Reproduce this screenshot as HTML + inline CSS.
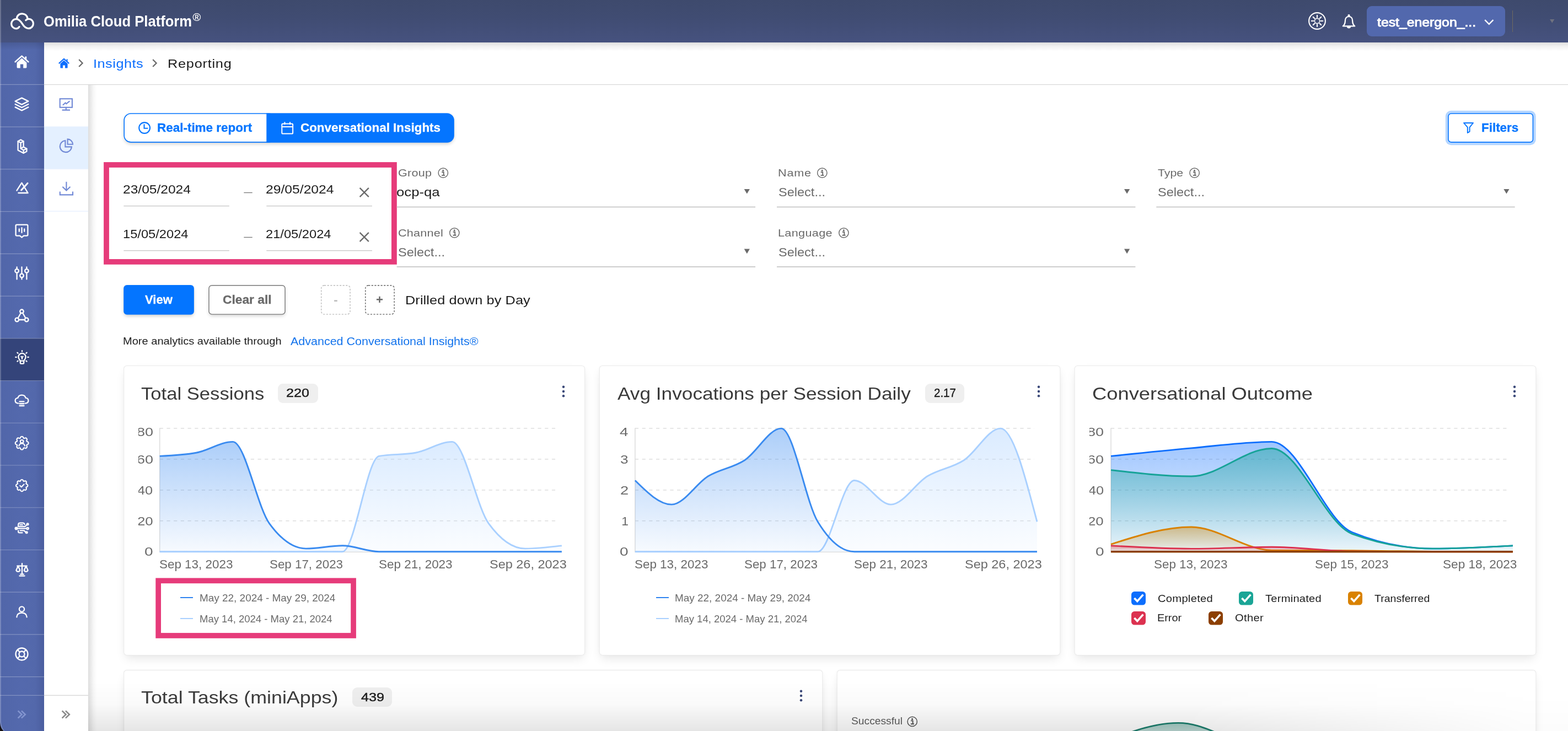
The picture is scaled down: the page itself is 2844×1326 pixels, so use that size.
<!DOCTYPE html>
<html lang="en"><head><meta charset="utf-8"><title>Omilia Cloud Platform - Reporting</title><style>
*{box-sizing:border-box;margin:0;padding:0}
html,body{width:2844px;height:1326px;overflow:hidden;background:#fff}
body{position:relative;font-family:"Liberation Sans",sans-serif;}
.t{position:absolute;white-space:nowrap;display:block;z-index:2}
svg{display:block;overflow:visible}
</style></head><body>
<div style="position:absolute;left:160.00px;top:154.00px;width:16.00px;height:1172.00px;background:linear-gradient(to right,rgba(0,0,0,0.13),rgba(0,0,0,0.03) 60%,rgba(0,0,0,0));"></div>
<div style="position:absolute;left:225.00px;top:206.00px;width:598.40px;height:52.40px;border-radius:13px;box-shadow:0 3px 6px rgba(0,0,0,0.2);background:#fff;"></div>
<span class="t" style="left:285.10px;top:221.30px;font-size:22.20px;line-height:22.20px;color:#0475ff;font-weight:bold;transform:scaleX(1.0119);transform-origin:0 0;-webkit-text-stroke:0.3px #0475ff;">Real-time report</span>
<span class="t" style="left:544.88px;top:221.30px;font-size:22.20px;line-height:22.20px;color:#fff;font-weight:bold;transform:scaleX(1.0100);transform-origin:0 0;-webkit-text-stroke:0.3px #fff;">Conversational Insights</span>
<span class="t" style="left:2687.10px;top:221.30px;font-size:22.20px;line-height:22.20px;color:#0475ff;font-weight:bold;transform:scaleX(1.0094);transform-origin:0 0;-webkit-text-stroke:0.3px #0475ff;">Filters</span>
<span class="t" style="left:223.36px;top:332.40px;font-size:22.80px;line-height:22.80px;color:#1c1c1c;font-weight:normal;transform:scaleX(1.0775);transform-origin:0 0;">23/05/2024</span>
<span class="t" style="left:482.26px;top:332.40px;font-size:22.80px;line-height:22.80px;color:#1c1c1c;font-weight:normal;transform:scaleX(1.0829);transform-origin:0 0;">29/05/2024</span>
<span class="t" style="left:222.80px;top:413.40px;font-size:22.80px;line-height:22.80px;color:#1c1c1c;font-weight:normal;transform:scaleX(1.0385);transform-origin:0 0;">15/05/2024</span>
<span class="t" style="left:482.31px;top:413.40px;font-size:22.80px;line-height:22.80px;color:#1c1c1c;font-weight:normal;transform:scaleX(1.0383);transform-origin:0 0;">21/05/2024</span>
<span class="t" style="left:722.21px;top:305.18px;font-size:18.80px;line-height:18.80px;color:#6a6a6a;font-weight:normal;letter-spacing:0.209px;transform:scaleX(1.1500);transform-origin:0 0;">Group</span>
<span class="t" style="left:719.22px;top:337.57px;font-size:22.60px;line-height:22.60px;color:#1c1c1c;font-weight:normal;transform:scaleX(1.1388);transform-origin:0 0;">ocp-qa</span>
<span class="t" style="left:1410.83px;top:305.18px;font-size:18.80px;line-height:18.80px;color:#6a6a6a;font-weight:normal;letter-spacing:0.726px;transform:scaleX(1.1500);transform-origin:0 0;">Name</span>
<span class="t" style="left:1411.53px;top:338.07px;font-size:22.00px;line-height:22.00px;color:#6a6a6a;font-weight:normal;transform:scaleX(1.0696);transform-origin:0 0;">Select...</span>
<span class="t" style="left:2100.43px;top:305.18px;font-size:18.80px;line-height:18.80px;color:#6a6a6a;font-weight:normal;transform:scaleX(1.1344);transform-origin:0 0;">Type</span>
<span class="t" style="left:2099.83px;top:338.07px;font-size:22.00px;line-height:22.00px;color:#6a6a6a;font-weight:normal;transform:scaleX(1.0696);transform-origin:0 0;">Select...</span>
<span class="t" style="left:722.20px;top:413.78px;font-size:18.80px;line-height:18.80px;color:#6a6a6a;font-weight:normal;letter-spacing:0.185px;transform:scaleX(1.1500);transform-origin:0 0;">Channel</span>
<span class="t" style="left:722.23px;top:446.67px;font-size:22.00px;line-height:22.00px;color:#6a6a6a;font-weight:normal;transform:scaleX(1.0696);transform-origin:0 0;">Select...</span>
<span class="t" style="left:1410.83px;top:413.78px;font-size:18.80px;line-height:18.80px;color:#6a6a6a;font-weight:normal;letter-spacing:0.302px;transform:scaleX(1.1500);transform-origin:0 0;">Language</span>
<span class="t" style="left:1411.53px;top:446.67px;font-size:22.00px;line-height:22.00px;color:#6a6a6a;font-weight:normal;transform:scaleX(1.0696);transform-origin:0 0;">Select...</span>
<div style="position:absolute;left:225.00px;top:518.00px;width:126.00px;height:52.00px;border-radius:6px;background:#fff;box-shadow:0 3px 6px rgba(0,0,0,0.22);"></div>
<span class="t" style="left:262.85px;top:533.10px;font-size:22.20px;line-height:22.20px;color:#fff;font-weight:bold;transform:scaleX(0.9947);transform-origin:0 0;-webkit-text-stroke:0.3px #fff;">View</span>
<div style="position:absolute;left:379.00px;top:518.00px;width:138.00px;height:52.00px;border-radius:6px;background:#fff;box-shadow:0 3px 6px rgba(0,0,0,0.18);"></div>
<span class="t" style="left:404.07px;top:533.10px;font-size:22.20px;line-height:22.20px;color:#6a6a6a;font-weight:bold;transform:scaleX(1.0255);transform-origin:0 0;-webkit-text-stroke:0.3px #6a6a6a;">Clear all</span>
<span class="t" style="left:605.33px;top:533.10px;font-size:22.20px;line-height:22.20px;color:#bdbdbd;font-weight:bold;">-</span>
<span class="t" style="left:682.07px;top:533.10px;font-size:22.20px;line-height:22.20px;color:#6a6a6a;font-weight:bold;">+</span>
<span class="t" style="left:734.72px;top:534.27px;font-size:22.00px;line-height:22.00px;color:#1c1c1c;font-weight:normal;letter-spacing:0.084px;transform:scaleX(1.1500);transform-origin:0 0;">Drilled down by Day</span>
<span class="t" style="left:223.26px;top:611.28px;font-size:17.50px;line-height:17.50px;color:#1c1c1c;font-weight:normal;transform:scaleX(1.1457);transform-origin:0 0;">More analytics available through</span>
<span class="t" style="left:526.76px;top:608.77px;font-size:20.00px;line-height:20.00px;color:#1373ec;font-weight:normal;transform:scaleX(1.0739);transform-origin:0 0;">Advanced Conversational Insights®</span>
<svg style="position:absolute;left:0;top:0" width="2844" height="1326" viewBox="0 0 2844 1326"><rect x="225.20" y="206.00" width="274.00" height="51.90" rx="12.20" fill="#fff" stroke="#0475ff" stroke-width="1.6"/><path d="M483.3 205.2 H810.8 A13 13 0 0 1 823.8 218.2 V245.7 A13 13 0 0 1 810.8 258.7 H483.3 Z" fill="#0475ff"/><g fill="none" stroke="#0475ff" stroke-width="2.1"><circle cx="262.1" cy="232" r="9.9"/><path d="M261.5 225.2 V232.8 H268.3"/></g><g fill="none" stroke="#fff" stroke-width="2"><rect x="511.3" y="224.4" width="19.8" height="18.2" rx="1.6"/><path d="M511.3 230 H531.1 M516.4 221.2 V226 M526 221.2 V226"/></g><rect x="2621.80" y="200.70" width="163.80" height="62.50" rx="10.00" fill="#b5d6ff" stroke="none" stroke-width="0"/><rect x="2627.00" y="206.00" width="153.40" height="51.90" rx="5.20" fill="#fff" stroke="#0475ff" stroke-width="1.6"/><path d="M2655 223 H2672 L2665.6 230.8 V238.6 L2661.8 241 V230.8 Z" fill="none" stroke="#0475ff" stroke-width="1.9" stroke-linejoin="round"/><rect x="193.00" y="299.00" width="521.90" height="175.90" rx="0.00" fill="none" stroke="#e63b7a" stroke-width="9.8"/><path d="M224.40 373.60 L415.90 373.60" stroke="#c4c4c4" stroke-width="1.4" fill="none"/><path d="M442.30 349.50 L457.70 349.50" stroke="#777" stroke-width="1.3" fill="none"/><path d="M483.30 373.60 L674.90 373.60" stroke="#c4c4c4" stroke-width="1.4" fill="none"/><path d="M652.6 340.90 L668.8 357.10 M668.8 340.90 L652.6 357.10" fill="none" stroke="#6a6a6a" stroke-width="2.3"/><path d="M224.40 454.60 L415.90 454.60" stroke="#c4c4c4" stroke-width="1.4" fill="none"/><path d="M442.30 430.50 L457.70 430.50" stroke="#777" stroke-width="1.3" fill="none"/><path d="M483.30 454.60 L674.90 454.60" stroke="#c4c4c4" stroke-width="1.4" fill="none"/><path d="M652.6 421.90 L668.8 438.10 M668.8 421.90 L652.6 438.10" fill="none" stroke="#6a6a6a" stroke-width="2.3"/><g transform="translate(803.80 313.70)" fill="none" stroke="#6a6a6a"><circle cx="0" cy="0" r="8.65" stroke-width="1.5"/><circle cx="-0.1" cy="-4.5" r="1.55" fill="#6a6a6a" stroke="none"/><path d="M-2.6 -1.5 H0.9 V4.4 M-2.8 4.4 H3.2" stroke-width="1.9"/></g><path d="M719.70 375.40 L1370.10 375.40" stroke="#cdcdcd" stroke-width="2.0" fill="none"/><path d="M1349.70 343.00 h10.2 l-5.1 8.6 Z" fill="#6a6a6a"/><g transform="translate(1491.30 313.70)" fill="none" stroke="#6a6a6a"><circle cx="0" cy="0" r="8.65" stroke-width="1.5"/><circle cx="-0.1" cy="-4.5" r="1.55" fill="#6a6a6a" stroke="none"/><path d="M-2.6 -1.5 H0.9 V4.4 M-2.8 4.4 H3.2" stroke-width="1.9"/></g><path d="M1409.00 375.40 L2059.40 375.40" stroke="#cdcdcd" stroke-width="2.0" fill="none"/><path d="M2039.00 343.00 h10.2 l-5.1 8.6 Z" fill="#6a6a6a"/><g transform="translate(2166.60 313.70)" fill="none" stroke="#6a6a6a"><circle cx="0" cy="0" r="8.65" stroke-width="1.5"/><circle cx="-0.1" cy="-4.5" r="1.55" fill="#6a6a6a" stroke="none"/><path d="M-2.6 -1.5 H0.9 V4.4 M-2.8 4.4 H3.2" stroke-width="1.9"/></g><path d="M2097.30 375.40 L2747.70 375.40" stroke="#cdcdcd" stroke-width="2.0" fill="none"/><path d="M2727.30 343.00 h10.2 l-5.1 8.6 Z" fill="#6a6a6a"/><g transform="translate(824.30 422.30)" fill="none" stroke="#6a6a6a"><circle cx="0" cy="0" r="8.65" stroke-width="1.5"/><circle cx="-0.1" cy="-4.5" r="1.55" fill="#6a6a6a" stroke="none"/><path d="M-2.6 -1.5 H0.9 V4.4 M-2.8 4.4 H3.2" stroke-width="1.9"/></g><path d="M719.70 484.00 L1370.10 484.00" stroke="#cdcdcd" stroke-width="2.0" fill="none"/><path d="M1349.70 451.60 h10.2 l-5.1 8.6 Z" fill="#6a6a6a"/><g transform="translate(1530.40 422.30)" fill="none" stroke="#6a6a6a"><circle cx="0" cy="0" r="8.65" stroke-width="1.5"/><circle cx="-0.1" cy="-4.5" r="1.55" fill="#6a6a6a" stroke="none"/><path d="M-2.6 -1.5 H0.9 V4.4 M-2.8 4.4 H3.2" stroke-width="1.9"/></g><path d="M1409.00 484.00 L2059.40 484.00" stroke="#cdcdcd" stroke-width="2.0" fill="none"/><path d="M2039.00 451.60 h10.2 l-5.1 8.6 Z" fill="#6a6a6a"/><rect x="224.20" y="517.10" width="127.70" height="53.70" rx="6.00" fill="#0475ff" stroke="none" stroke-width="0"/><rect x="379.00" y="517.80" width="138.00" height="52.30" rx="5.30" fill="#fff" stroke="#787878" stroke-width="1.4"/><rect x="582.70" y="517.80" width="52.30" height="52.30" rx="5.30" fill="#fff" stroke="#bdbdbd" stroke-width="1.4" stroke-dasharray="3.2 2.4"/><rect x="662.80" y="517.80" width="52.30" height="52.30" rx="5.30" fill="#fff" stroke="#666" stroke-width="1.4" stroke-dasharray="3.2 2.4"/></svg>
<div style="position:absolute;left:225.00px;top:664.00px;width:836.00px;height:524.00px;background:#fff;border-radius:5px;box-shadow:0 9px 18px -3px rgba(0,0,0,0.10),0 0 10px rgba(0,0,0,0.02);"></div>
<div style="position:absolute;left:1087.00px;top:664.00px;width:836.00px;height:524.00px;background:#fff;border-radius:5px;box-shadow:0 9px 18px -3px rgba(0,0,0,0.10),0 0 10px rgba(0,0,0,0.02);"></div>
<div style="position:absolute;left:1949.00px;top:664.00px;width:837.00px;height:524.00px;background:#fff;border-radius:5px;box-shadow:0 9px 18px -3px rgba(0,0,0,0.10),0 0 10px rgba(0,0,0,0.02);"></div>
<div style="position:absolute;left:225.00px;top:1216.00px;width:1267.00px;height:283.00px;background:#fff;border-radius:5px;box-shadow:0 9px 18px -3px rgba(0,0,0,0.10),0 0 10px rgba(0,0,0,0.02);"></div>
<div style="position:absolute;left:1518.00px;top:1216.00px;width:1268.00px;height:283.00px;background:#fff;border-radius:5px;box-shadow:0 9px 18px -3px rgba(0,0,0,0.10),0 0 10px rgba(0,0,0,0.02);"></div>
<svg style="position:absolute;left:0;top:0" width="2844" height="1326" viewBox="0 0 2844 1326"><rect x="224.65" y="663.45" width="836.00" height="525.00" rx="5.45" fill="#fff" stroke="#eaeaea" stroke-width="1.1"/><rect x="1087.25" y="663.45" width="835.60" height="525.00" rx="5.45" fill="#fff" stroke="#eaeaea" stroke-width="1.1"/><rect x="1949.15" y="663.45" width="836.70" height="525.00" rx="5.45" fill="#fff" stroke="#eaeaea" stroke-width="1.1"/><rect x="224.65" y="1215.65" width="1267.20" height="283.80" rx="5.45" fill="#fff" stroke="#eaeaea" stroke-width="1.1"/><rect x="1518.25" y="1215.65" width="1267.60" height="283.80" rx="5.45" fill="#fff" stroke="#eaeaea" stroke-width="1.1"/></svg>
<span class="t" style="left:256.04px;top:697.91px;font-size:32.00px;line-height:32.00px;color:#3a3a3a;font-weight:normal;transform:scaleX(1.0817);transform-origin:0 0;">Total Sessions</span>
<div style="position:absolute;left:504.30px;top:696.30px;width:72.40px;height:34.40px;background:#efefef;border-radius:9px;"></div>
<span class="t" style="left:519.44px;top:701.40px;font-size:22.80px;line-height:22.80px;color:#1c1c1c;font-weight:normal;transform:scaleX(1.0997);transform-origin:0 0;-webkit-text-stroke:0.45px #1c1c1c;">220</span>
<svg style="position:absolute;left:1018.90px;top:698.30px;" width="6.00" height="24.00" viewBox="0 0 6 24"><circle cx="3" cy="3.7" r="2.25" fill="#3a4878"/><circle cx="3" cy="12" r="2.25" fill="#3a4878"/><circle cx="3" cy="20.3" r="2.25" fill="#3a4878"/></svg>
<span class="t" style="left:1119.83px;top:697.91px;font-size:32.00px;line-height:32.00px;color:#3a3a3a;font-weight:normal;transform:scaleX(1.1004);transform-origin:0 0;">Avg Invocations per Session Daily</span>
<div style="position:absolute;left:1678.20px;top:696.30px;width:70.70px;height:34.40px;background:#efefef;border-radius:9px;"></div>
<span class="t" style="left:1693.62px;top:701.40px;font-size:22.80px;line-height:22.80px;color:#1c1c1c;font-weight:normal;transform:scaleX(0.8983);transform-origin:0 0;-webkit-text-stroke:0.45px #1c1c1c;">2.17</span>
<svg style="position:absolute;left:1881.10px;top:698.30px;" width="6.00" height="24.00" viewBox="0 0 6 24"><circle cx="3" cy="3.7" r="2.25" fill="#3a4878"/><circle cx="3" cy="12" r="2.25" fill="#3a4878"/><circle cx="3" cy="20.3" r="2.25" fill="#3a4878"/></svg>
<span class="t" style="left:1980.75px;top:697.91px;font-size:32.00px;line-height:32.00px;color:#3a3a3a;font-weight:normal;transform:scaleX(1.1360);transform-origin:0 0;">Conversational Outcome</span>
<svg style="position:absolute;left:2743.70px;top:698.30px;" width="6.00" height="24.00" viewBox="0 0 6 24"><circle cx="3" cy="3.7" r="2.25" fill="#3a4878"/><circle cx="3" cy="12" r="2.25" fill="#3a4878"/><circle cx="3" cy="20.3" r="2.25" fill="#3a4878"/></svg>
<span class="t" style="left:256.01px;top:1248.61px;font-size:32.00px;line-height:32.00px;color:#3a3a3a;font-weight:normal;transform:scaleX(1.1184);transform-origin:0 0;">Total Tasks (miniApps)</span>
<div style="position:absolute;left:639.30px;top:1247.40px;width:72.20px;height:34.40px;background:#efefef;border-radius:9px;"></div>
<span class="t" style="left:654.72px;top:1252.50px;font-size:22.80px;line-height:22.80px;color:#1c1c1c;font-weight:normal;transform:scaleX(1.1031);transform-origin:0 0;-webkit-text-stroke:0.45px #1c1c1c;">439</span>
<svg style="position:absolute;left:1450.00px;top:1249.60px;" width="6.00" height="24.00" viewBox="0 0 6 24"><circle cx="3" cy="3.7" r="2.25" fill="#3a4878"/><circle cx="3" cy="12" r="2.25" fill="#3a4878"/><circle cx="3" cy="20.3" r="2.25" fill="#3a4878"/></svg>
<span class="t" style="left:1544.13px;top:1300.28px;font-size:17.50px;line-height:17.50px;color:#555;font-weight:normal;transform:scaleX(1.0985);transform-origin:0 0;">Successful</span>
<div style="position:absolute;left:251.00px;top:760.70px;width:27.60px;height:40.00px;overflow:hidden;"><span class="t" style="left:-3.37px;top:11.40px;font-size:22.80px;line-height:22.80px;color:#6a6a6a;font-weight:normal;transform:scaleX(1.1841);transform-origin:0 0;">80</span></div>
<div style="position:absolute;left:251.00px;top:810.60px;width:27.60px;height:40.00px;overflow:hidden;"><span class="t" style="left:-3.37px;top:11.40px;font-size:22.80px;line-height:22.80px;color:#6a6a6a;font-weight:normal;transform:scaleX(1.1840);transform-origin:0 0;">60</span></div>
<div style="position:absolute;left:251.00px;top:866.50px;width:27.60px;height:40.00px;overflow:hidden;"><span class="t" style="left:-1.58px;top:11.40px;font-size:22.80px;line-height:22.80px;color:#6a6a6a;font-weight:normal;transform:scaleX(1.1109);transform-origin:0 0;">40</span></div>
<div style="position:absolute;left:251.00px;top:922.40px;width:27.60px;height:40.00px;overflow:hidden;"><span class="t" style="left:-2.10px;top:11.40px;font-size:22.80px;line-height:22.80px;color:#6a6a6a;font-weight:normal;transform:scaleX(1.1320);transform-origin:0 0;">20</span></div>
<div style="position:absolute;left:251.00px;top:977.60px;width:27.60px;height:40.00px;overflow:hidden;"><span class="t" style="left:11.11px;top:11.40px;font-size:22.80px;line-height:22.80px;color:#6a6a6a;font-weight:normal;transform:scaleX(1.2288);transform-origin:0 0;">0</span></div>
<span class="t" style="left:289.28px;top:1011.60px;font-size:22.80px;line-height:22.80px;color:#6a6a6a;font-weight:normal;transform:scaleX(0.9835);transform-origin:0 0;">Sep 13, 2023</span>
<span class="t" style="left:488.58px;top:1011.60px;font-size:22.80px;line-height:22.80px;color:#6a6a6a;font-weight:normal;transform:scaleX(0.9805);transform-origin:0 0;">Sep 17, 2023</span>
<span class="t" style="left:686.98px;top:1011.60px;font-size:22.80px;line-height:22.80px;color:#6a6a6a;font-weight:normal;transform:scaleX(0.9850);transform-origin:0 0;">Sep 21, 2023</span>
<span class="t" style="left:887.93px;top:1011.60px;font-size:22.80px;line-height:22.80px;color:#6a6a6a;font-weight:normal;transform:scaleX(1.0299);transform-origin:0 0;">Sep 26, 2023</span>
<div style="position:absolute;left:1110.00px;top:760.70px;width:30.80px;height:40.00px;overflow:hidden;"><span class="t" style="left:14.16px;top:11.40px;font-size:22.80px;line-height:22.80px;color:#6a6a6a;font-weight:normal;transform:scaleX(1.2179);transform-origin:0 0;">4</span></div>
<div style="position:absolute;left:1110.00px;top:810.60px;width:30.80px;height:40.00px;overflow:hidden;"><span class="t" style="left:15.40px;top:11.40px;font-size:22.80px;line-height:22.80px;color:#6a6a6a;font-weight:normal;transform:scaleX(1.1464);transform-origin:0 0;">3</span></div>
<div style="position:absolute;left:1110.00px;top:866.50px;width:30.80px;height:40.00px;overflow:hidden;"><span class="t" style="left:15.03px;top:11.40px;font-size:22.80px;line-height:22.80px;color:#6a6a6a;font-weight:normal;transform:scaleX(1.1931);transform-origin:0 0;">2</span></div>
<div style="position:absolute;left:1110.00px;top:922.40px;width:30.80px;height:40.00px;overflow:hidden;"><span class="t" style="left:17.23px;top:11.40px;font-size:22.80px;line-height:22.80px;color:#6a6a6a;font-weight:normal;">1</span></div>
<div style="position:absolute;left:1110.00px;top:977.60px;width:30.80px;height:40.00px;overflow:hidden;"><span class="t" style="left:14.31px;top:11.40px;font-size:22.80px;line-height:22.80px;color:#6a6a6a;font-weight:normal;transform:scaleX(1.2288);transform-origin:0 0;">0</span></div>
<span class="t" style="left:1151.38px;top:1011.60px;font-size:22.80px;line-height:22.80px;color:#6a6a6a;font-weight:normal;transform:scaleX(0.9835);transform-origin:0 0;">Sep 13, 2023</span>
<span class="t" style="left:1350.38px;top:1011.60px;font-size:22.80px;line-height:22.80px;color:#6a6a6a;font-weight:normal;transform:scaleX(0.9805);transform-origin:0 0;">Sep 17, 2023</span>
<span class="t" style="left:1549.18px;top:1011.60px;font-size:22.80px;line-height:22.80px;color:#6a6a6a;font-weight:normal;transform:scaleX(0.9850);transform-origin:0 0;">Sep 21, 2023</span>
<span class="t" style="left:1749.93px;top:1011.60px;font-size:22.80px;line-height:22.80px;color:#6a6a6a;font-weight:normal;transform:scaleX(1.0299);transform-origin:0 0;">Sep 26, 2023</span>
<div style="position:absolute;left:1975.60px;top:760.70px;width:27.40px;height:40.00px;overflow:hidden;"><span class="t" style="left:-3.57px;top:11.40px;font-size:22.80px;line-height:22.80px;color:#6a6a6a;font-weight:normal;transform:scaleX(1.1841);transform-origin:0 0;">80</span></div>
<div style="position:absolute;left:1975.60px;top:810.60px;width:27.40px;height:40.00px;overflow:hidden;"><span class="t" style="left:-3.57px;top:11.40px;font-size:22.80px;line-height:22.80px;color:#6a6a6a;font-weight:normal;transform:scaleX(1.1840);transform-origin:0 0;">60</span></div>
<div style="position:absolute;left:1975.60px;top:866.50px;width:27.40px;height:40.00px;overflow:hidden;"><span class="t" style="left:-1.78px;top:11.40px;font-size:22.80px;line-height:22.80px;color:#6a6a6a;font-weight:normal;transform:scaleX(1.1109);transform-origin:0 0;">40</span></div>
<div style="position:absolute;left:1975.60px;top:922.40px;width:27.40px;height:40.00px;overflow:hidden;"><span class="t" style="left:-2.30px;top:11.40px;font-size:22.80px;line-height:22.80px;color:#6a6a6a;font-weight:normal;transform:scaleX(1.1320);transform-origin:0 0;">20</span></div>
<div style="position:absolute;left:1975.60px;top:977.60px;width:27.40px;height:40.00px;overflow:hidden;"><span class="t" style="left:10.91px;top:11.40px;font-size:22.80px;line-height:22.80px;color:#6a6a6a;font-weight:normal;transform:scaleX(1.2288);transform-origin:0 0;">0</span></div>
<span class="t" style="left:2093.38px;top:1011.60px;font-size:22.80px;line-height:22.80px;color:#6a6a6a;font-weight:normal;transform:scaleX(0.9835);transform-origin:0 0;">Sep 13, 2023</span>
<span class="t" style="left:2385.48px;top:1011.60px;font-size:22.80px;line-height:22.80px;color:#6a6a6a;font-weight:normal;transform:scaleX(0.9835);transform-origin:0 0;">Sep 15, 2023</span>
<span class="t" style="left:2616.97px;top:1011.60px;font-size:22.80px;line-height:22.80px;color:#6a6a6a;font-weight:normal;transform:scaleX(0.9910);transform-origin:0 0;">Sep 18, 2023</span>
<svg style="position:absolute;left:0;top:0" width="2844" height="1326" viewBox="0 0 2844 1326"><defs><linearGradient id="ga" x1="0" y1="0" x2="0" y2="1"><stop offset="0" stop-color="#2f84f0" stop-opacity="0.40"/><stop offset="1" stop-color="#2f84f0" stop-opacity="0.04"/></linearGradient><linearGradient id="gb" x1="0" y1="0" x2="0" y2="1"><stop offset="0" stop-color="#a9d0ff" stop-opacity="0.42"/><stop offset="1" stop-color="#a9d0ff" stop-opacity="0.05"/></linearGradient><linearGradient id="gc1" x1="0" y1="0" x2="0" y2="1"><stop offset="0" stop-color="#0d6efd" stop-opacity="0.40"/><stop offset="1" stop-color="#0d6efd" stop-opacity="0.04"/></linearGradient><linearGradient id="gc2" x1="0" y1="0" x2="0" y2="1"><stop offset="0" stop-color="#17a398" stop-opacity="0.46"/><stop offset="1" stop-color="#17a398" stop-opacity="0.04"/></linearGradient><linearGradient id="gc3" x1="0" y1="0" x2="0" y2="1"><stop offset="0" stop-color="#d98200" stop-opacity="0.42"/><stop offset="1" stop-color="#d98200" stop-opacity="0.04"/></linearGradient><linearGradient id="gc4" x1="0" y1="0" x2="0" y2="1"><stop offset="0" stop-color="#dc3250" stop-opacity="0.40"/><stop offset="1" stop-color="#dc3250" stop-opacity="0.04"/></linearGradient><linearGradient id="gs" x1="0" y1="0" x2="0" y2="1"><stop offset="0" stop-color="#1d7f6e" stop-opacity="0.42"/><stop offset="1" stop-color="#1d7f6e" stop-opacity="0.2"/></linearGradient></defs><path d="M289.7 777.1 H1013.5" stroke="#dedede" stroke-width="1.5" stroke-dasharray="6.2 6.5" fill="none"/><path d="M289.7 833.0 H1013.5" stroke="#dedede" stroke-width="1.5" stroke-dasharray="6.2 6.5" fill="none"/><path d="M289.7 888.9 H1013.5" stroke="#dedede" stroke-width="1.5" stroke-dasharray="6.2 6.5" fill="none"/><path d="M289.7 944.8 H1013.5" stroke="#dedede" stroke-width="1.5" stroke-dasharray="6.2 6.5" fill="none"/><path d="M289.7 776.6 V1001.4 H1018.5" stroke="#dadada" stroke-width="1.4" fill="none"/><path d="M289.70,1000.70C311.80,1000.70,333.89,1000.70,355.99,1000.70C378.09,1000.70,400.18,1000.70,422.28,1000.70C444.38,1000.70,466.48,1000.70,488.57,1000.70C510.67,1000.70,532.77,1000.70,554.86,1000.70C576.96,1000.70,599.06,1000.70,621.15,1000.70C643.25,1000.70,665.35,831.51,687.45,827.41C709.54,823.31,731.64,825.36,753.74,821.26C775.83,817.16,797.93,801.42,820.03,801.42C842.12,801.42,864.22,919.18,886.32,949.55C908.42,979.92,930.51,995.11,952.61,995.11C974.71,995.11,996.80,992.45,1018.90,989.80L1018.90,1000.70L289.70,1000.70Z" fill="url(#gb)" stroke="none"/><path d="M289.70,1000.70C311.80,1000.70,333.89,1000.70,355.99,1000.70C378.09,1000.70,400.18,1000.70,422.28,1000.70C444.38,1000.70,466.48,1000.70,488.57,1000.70C510.67,1000.70,532.77,1000.70,554.86,1000.70C576.96,1000.70,599.06,1000.70,621.15,1000.70C643.25,1000.70,665.35,831.51,687.45,827.41C709.54,823.31,731.64,825.36,753.74,821.26C775.83,817.16,797.93,801.42,820.03,801.42C842.12,801.42,864.22,919.18,886.32,949.55C908.42,979.92,930.51,995.11,952.61,995.11C974.71,995.11,996.80,992.45,1018.90,989.80" fill="none" stroke="#a9d0ff" stroke-width="2.9" stroke-linejoin="round"/><path d="M289.70,827.41C311.80,826.39,333.89,825.36,355.99,821.26C378.09,817.16,400.18,801.42,422.28,801.42C444.38,801.42,466.48,919.18,488.57,949.55C510.67,979.92,532.77,995.11,554.86,995.11C576.96,995.11,599.06,989.80,621.15,989.80C643.25,989.80,665.35,1000.70,687.45,1000.70C709.54,1000.70,731.64,1000.70,753.74,1000.70C775.83,1000.70,797.93,1000.70,820.03,1000.70C842.12,1000.70,864.22,1000.70,886.32,1000.70C908.42,1000.70,930.51,1000.70,952.61,1000.70C974.71,1000.70,996.80,1000.70,1018.90,1000.70L1018.90,1000.70L289.70,1000.70Z" fill="url(#ga)" stroke="none"/><path d="M289.70,827.41C311.80,826.39,333.89,825.36,355.99,821.26C378.09,817.16,400.18,801.42,422.28,801.42C444.38,801.42,466.48,919.18,488.57,949.55C510.67,979.92,532.77,995.11,554.86,995.11C576.96,995.11,599.06,989.80,621.15,989.80C643.25,989.80,665.35,1000.70,687.45,1000.70C709.54,1000.70,731.64,1000.70,753.74,1000.70C775.83,1000.70,797.93,1000.70,820.03,1000.70C842.12,1000.70,864.22,1000.70,886.32,1000.70C908.42,1000.70,930.51,1000.70,952.61,1000.70C974.71,1000.70,996.80,1000.70,1018.90,1000.70" fill="none" stroke="#3a8bf0" stroke-width="2.9" stroke-linejoin="round"/><path d="M1151.9 777.1 H1876.0" stroke="#dedede" stroke-width="1.5" stroke-dasharray="6.2 6.5" fill="none"/><path d="M1151.9 833.0 H1876.0" stroke="#dedede" stroke-width="1.5" stroke-dasharray="6.2 6.5" fill="none"/><path d="M1151.9 888.9 H1876.0" stroke="#dedede" stroke-width="1.5" stroke-dasharray="6.2 6.5" fill="none"/><path d="M1151.9 944.8 H1876.0" stroke="#dedede" stroke-width="1.5" stroke-dasharray="6.2 6.5" fill="none"/><path d="M1151.9 776.6 V1001.4 H1881.0" stroke="#dadada" stroke-width="1.4" fill="none"/><path d="M1151.90,1000.70C1173.99,1000.70,1196.09,1000.70,1218.18,1000.70C1240.28,1000.70,1262.37,1000.70,1284.46,1000.70C1306.56,1000.70,1328.65,1000.70,1350.75,1000.70C1372.84,1000.70,1394.93,1000.70,1417.03,1000.70C1439.12,1000.70,1461.22,1000.70,1483.31,1000.70C1505.40,1000.70,1527.50,871.57,1549.59,871.57C1571.68,871.57,1593.78,915.17,1615.87,915.17C1637.97,915.17,1660.06,877.16,1682.15,863.75C1704.25,850.33,1726.34,849.12,1748.44,834.68C1770.53,820.24,1792.62,777.10,1814.72,777.10C1836.81,777.10,1858.91,861.79,1881.00,946.48L1881.00,1000.70L1151.90,1000.70Z" fill="url(#gb)" stroke="none"/><path d="M1151.90,1000.70C1173.99,1000.70,1196.09,1000.70,1218.18,1000.70C1240.28,1000.70,1262.37,1000.70,1284.46,1000.70C1306.56,1000.70,1328.65,1000.70,1350.75,1000.70C1372.84,1000.70,1394.93,1000.70,1417.03,1000.70C1439.12,1000.70,1461.22,1000.70,1483.31,1000.70C1505.40,1000.70,1527.50,871.57,1549.59,871.57C1571.68,871.57,1593.78,915.17,1615.87,915.17C1637.97,915.17,1660.06,877.16,1682.15,863.75C1704.25,850.33,1726.34,849.12,1748.44,834.68C1770.53,820.24,1792.62,777.10,1814.72,777.10C1836.81,777.10,1858.91,861.79,1881.00,946.48" fill="none" stroke="#a9d0ff" stroke-width="2.9" stroke-linejoin="round"/><path d="M1151.90,871.57C1173.99,893.37,1196.09,915.17,1218.18,915.17C1240.28,915.17,1262.37,877.16,1284.46,863.75C1306.56,850.33,1328.65,849.12,1350.75,834.68C1372.84,820.24,1394.93,777.10,1417.03,777.10C1439.12,777.10,1461.22,910.33,1483.31,946.48C1505.40,982.63,1527.50,1000.70,1549.59,1000.70C1571.68,1000.70,1593.78,1000.70,1615.87,1000.70C1637.97,1000.70,1660.06,1000.70,1682.15,1000.70C1704.25,1000.70,1726.34,1000.70,1748.44,1000.70C1770.53,1000.70,1792.62,1000.70,1814.72,1000.70C1836.81,1000.70,1858.91,1000.70,1881.00,1000.70L1881.00,1000.70L1151.90,1000.70Z" fill="url(#ga)" stroke="none"/><path d="M1151.90,871.57C1173.99,893.37,1196.09,915.17,1218.18,915.17C1240.28,915.17,1262.37,877.16,1284.46,863.75C1306.56,850.33,1328.65,849.12,1350.75,834.68C1372.84,820.24,1394.93,777.10,1417.03,777.10C1439.12,777.10,1461.22,910.33,1483.31,946.48C1505.40,982.63,1527.50,1000.70,1549.59,1000.70C1571.68,1000.70,1593.78,1000.70,1615.87,1000.70C1637.97,1000.70,1660.06,1000.70,1682.15,1000.70C1704.25,1000.70,1726.34,1000.70,1748.44,1000.70C1770.53,1000.70,1792.62,1000.70,1814.72,1000.70C1836.81,1000.70,1858.91,1000.70,1881.00,1000.70" fill="none" stroke="#3a8bf0" stroke-width="2.9" stroke-linejoin="round"/><path d="M2015.0 777.1 H2738.8" stroke="#dedede" stroke-width="1.5" stroke-dasharray="6.2 6.5" fill="none"/><path d="M2015.0 833.0 H2738.8" stroke="#dedede" stroke-width="1.5" stroke-dasharray="6.2 6.5" fill="none"/><path d="M2015.0 888.9 H2738.8" stroke="#dedede" stroke-width="1.5" stroke-dasharray="6.2 6.5" fill="none"/><path d="M2015.0 944.8 H2738.8" stroke="#dedede" stroke-width="1.5" stroke-dasharray="6.2 6.5" fill="none"/><path d="M2015.0 776.6 V1001.4 H2743.8" stroke="#dadada" stroke-width="1.4" fill="none"/><path d="M2015.00,827.41C2063.59,822.31,2112.19,817.21,2160.78,812.88C2209.37,808.54,2257.97,801.42,2306.56,801.42C2355.15,801.42,2403.75,945.73,2452.34,965.48C2500.93,985.23,2549.53,995.11,2598.12,995.11C2646.71,995.11,2695.31,992.45,2743.90,989.80L2743.90,1000.70L2015.00,1000.70Z" fill="url(#gc1)" stroke="none"/><path d="M2015.00,827.41C2063.59,822.31,2112.19,817.21,2160.78,812.88C2209.37,808.54,2257.97,801.42,2306.56,801.42C2355.15,801.42,2403.75,945.73,2452.34,965.48C2500.93,985.23,2549.53,995.11,2598.12,995.11C2646.71,995.11,2695.31,992.45,2743.90,989.80" fill="none" stroke="#0d6efd" stroke-width="2.9" stroke-linejoin="round"/><path d="M2015.00,852.57C2063.59,858.29,2112.19,864.02,2160.78,864.02C2209.37,864.02,2257.97,813.44,2306.56,813.44C2355.15,813.44,2403.75,950.39,2452.34,968.28C2500.93,986.17,2549.53,995.11,2598.12,995.11C2646.71,995.11,2695.31,992.45,2743.90,989.80L2743.90,1000.70L2015.00,1000.70Z" fill="url(#gc2)" stroke="none"/><path d="M2015.00,852.57C2063.59,858.29,2112.19,864.02,2160.78,864.02C2209.37,864.02,2257.97,813.44,2306.56,813.44C2355.15,813.44,2403.75,950.39,2452.34,968.28C2500.93,986.17,2549.53,995.11,2598.12,995.11C2646.71,995.11,2695.31,992.45,2743.90,989.80" fill="none" stroke="#17a398" stroke-width="2.9" stroke-linejoin="round"/><path d="M2015.00,987.28C2063.59,971.63,2112.19,955.98,2160.78,955.98C2209.37,955.98,2257.97,997.81,2306.56,998.18C2355.15,998.56,2403.75,998.37,2452.34,998.74C2500.93,999.12,2549.53,1000.23,2598.12,1000.42C2646.71,1000.61,2695.31,1000.65,2743.90,1000.70L2743.90,1000.70L2015.00,1000.70Z" fill="url(#gc3)" stroke="none"/><path d="M2015.00,987.28C2063.59,971.63,2112.19,955.98,2160.78,955.98C2209.37,955.98,2257.97,997.81,2306.56,998.18C2355.15,998.56,2403.75,998.37,2452.34,998.74C2500.93,999.12,2549.53,1000.23,2598.12,1000.42C2646.71,1000.61,2695.31,1000.65,2743.90,1000.70" fill="none" stroke="#d98200" stroke-width="2.9" stroke-linejoin="round"/><path d="M2015.00,989.80C2063.59,992.59,2112.19,995.39,2160.78,995.39C2209.37,995.39,2257.97,992.32,2306.56,992.32C2355.15,992.32,2403.75,999.30,2452.34,999.86C2500.93,1000.42,2549.53,1000.70,2598.12,1000.70C2646.71,1000.70,2695.31,1000.70,2743.90,1000.70L2743.90,1000.70L2015.00,1000.70Z" fill="url(#gc4)" stroke="none"/><path d="M2015.00,989.80C2063.59,992.59,2112.19,995.39,2160.78,995.39C2209.37,995.39,2257.97,992.32,2306.56,992.32C2355.15,992.32,2403.75,999.30,2452.34,999.86C2500.93,1000.42,2549.53,1000.70,2598.12,1000.70C2646.71,1000.70,2695.31,1000.70,2743.90,1000.70" fill="none" stroke="#dc3250" stroke-width="2.9" stroke-linejoin="round"/><path d="M2015.0 1000.7 H2743.9" stroke="#8c3f00" stroke-width="3.4" fill="none"/><path d="M2030 1336 C2070 1320 2108 1311.4 2137 1311.4 C2160 1311.4 2180 1317 2222 1336 Z" fill="url(#gs)" stroke="#1d7f6e" stroke-width="2.8"/></svg>
<svg style="position:absolute;left:0;top:0" width="2844" height="1326" viewBox="0 0 2844 1326"><g transform="translate(1654.70 1308.90)" fill="none" stroke="#555"><circle cx="0" cy="0" r="8.65" stroke-width="1.5"/><circle cx="-0.1" cy="-4.5" r="1.55" fill="#555" stroke="none"/><path d="M-2.6 -1.5 H0.9 V4.4 M-2.8 4.4 H3.2" stroke-width="1.9"/></g><rect x="287.15" y="1053.35" width="353.90" height="99.60" rx="0.00" fill="none" stroke="#e63b7a" stroke-width="9.7"/></svg>
<div style="position:absolute;left:326.80px;top:1082.60px;width:23.20px;height:2.40px;background:#2f84f0;"></div>
<span class="t" style="left:361.85px;top:1075.62px;font-size:18.40px;line-height:18.40px;color:#6a6a6a;font-weight:normal;transform:scaleX(1.0296);transform-origin:0 0;">May 22, 2024 - May 29, 2024</span>
<div style="position:absolute;left:326.80px;top:1120.80px;width:23.20px;height:2.40px;background:#a9d0ff;"></div>
<span class="t" style="left:361.88px;top:1113.52px;font-size:18.40px;line-height:18.40px;color:#6a6a6a;font-weight:normal;transform:scaleX(1.0060);transform-origin:0 0;">May 14, 2024 - May 21, 2024</span>
<div style="position:absolute;left:1189.80px;top:1082.60px;width:23.20px;height:2.40px;background:#2f84f0;"></div>
<span class="t" style="left:1224.45px;top:1075.62px;font-size:18.40px;line-height:18.40px;color:#6a6a6a;font-weight:normal;transform:scaleX(1.0296);transform-origin:0 0;">May 22, 2024 - May 29, 2024</span>
<div style="position:absolute;left:1189.80px;top:1120.80px;width:23.20px;height:2.40px;background:#a9d0ff;"></div>
<span class="t" style="left:1224.48px;top:1113.52px;font-size:18.40px;line-height:18.40px;color:#6a6a6a;font-weight:normal;transform:scaleX(1.0060);transform-origin:0 0;">May 14, 2024 - May 21, 2024</span>
<svg style="position:absolute;left:2052.00px;top:1073.40px;" width="26.00" height="25.00" viewBox="0 0 26 25"><rect x="0" y="0" width="26" height="24.6" rx="5.6" fill="#0d6efd"/><path d="M5.4 12 L10.8 17.6 L21.4 5.6" fill="none" stroke="#fff" stroke-width="3.6"/></svg>
<span class="t" style="left:2099.98px;top:1078.28px;font-size:17.50px;line-height:17.50px;color:#1c1c1c;font-weight:normal;letter-spacing:0.259px;transform:scaleX(1.1500);transform-origin:0 0;">Completed</span>
<svg style="position:absolute;left:2246.80px;top:1073.40px;" width="26.00" height="25.00" viewBox="0 0 26 25"><rect x="0" y="0" width="26" height="24.6" rx="5.6" fill="#1aa596"/><path d="M5.4 12 L10.8 17.6 L21.4 5.6" fill="none" stroke="#fff" stroke-width="3.6"/></svg>
<span class="t" style="left:2295.36px;top:1078.28px;font-size:17.50px;line-height:17.50px;color:#1c1c1c;font-weight:normal;letter-spacing:0.207px;transform:scaleX(1.1500);transform-origin:0 0;">Terminated</span>
<svg style="position:absolute;left:2444.60px;top:1073.40px;" width="26.00" height="25.00" viewBox="0 0 26 25"><rect x="0" y="0" width="26" height="24.6" rx="5.6" fill="#d98200"/><path d="M5.4 12 L10.8 17.6 L21.4 5.6" fill="none" stroke="#fff" stroke-width="3.6"/></svg>
<span class="t" style="left:2492.56px;top:1078.28px;font-size:17.50px;line-height:17.50px;color:#1c1c1c;font-weight:normal;transform:scaleX(1.1166);transform-origin:0 0;">Transferred</span>
<svg style="position:absolute;left:2052.00px;top:1108.60px;" width="26.00" height="25.00" viewBox="0 0 26 25"><rect x="0" y="0" width="26" height="24.6" rx="5.6" fill="#dc3250"/><path d="M5.4 12 L10.8 17.6 L21.4 5.6" fill="none" stroke="#fff" stroke-width="3.6"/></svg>
<span class="t" style="left:2099.37px;top:1113.48px;font-size:17.50px;line-height:17.50px;color:#1c1c1c;font-weight:normal;transform:scaleX(1.1355);transform-origin:0 0;">Error</span>
<svg style="position:absolute;left:2192.20px;top:1108.60px;" width="26.00" height="25.00" viewBox="0 0 26 25"><rect x="0" y="0" width="26" height="24.6" rx="5.6" fill="#8c3f00"/><path d="M5.4 12 L10.8 17.6 L21.4 5.6" fill="none" stroke="#fff" stroke-width="3.6"/></svg>
<span class="t" style="left:2239.65px;top:1113.48px;font-size:17.50px;line-height:17.50px;color:#1c1c1c;font-weight:normal;letter-spacing:0.291px;transform:scaleX(1.1500);transform-origin:0 0;">Other</span>
<div style="position:absolute;left:160.00px;top:1236.00px;width:2684.00px;height:90.00px;background:linear-gradient(to bottom,rgba(0,0,0,0) 0,rgba(0,0,0,0.02) 45%,rgba(0,0,0,0.10) 100%);-webkit-mask-image:linear-gradient(to right,#000 0,#000 74%,rgba(0,0,0,0.12) 97%);mask-image:linear-gradient(to right,#000 0,#000 74%,rgba(0,0,0,0.12) 97%);"></div>
<div style="position:absolute;left:80.00px;top:76.67px;width:2764.00px;height:77.33px;background:#fff;border-bottom:1.4px solid #d2d2d2;"></div>
<div style="position:absolute;left:80.00px;top:76.67px;width:2764.00px;height:16.00px;background:linear-gradient(to bottom,rgba(0,0,0,0.13),rgba(0,0,0,0.05) 45%,rgba(0,0,0,0));"></div>
<svg style="position:absolute;left:105.50px;top:105.00px;" width="20.00" height="19.00" viewBox="0 0 20 19"><path d="M1.4 9.6 L10 1.8 L18.6 9.6" fill="none" stroke="#0d6efd" stroke-width="2.2" stroke-linecap="round" stroke-linejoin="round"/><path d="M14.6 2.2 H16.6 V6.6 L14.6 4.8 Z" fill="#0d6efd"/><path d="M10 4.6 L3.4 10.6 V17.4 Q3.4 18.6 4.6 18.6 H8 V13.4 H12 V18.6 H15.4 Q16.6 18.6 16.6 17.4 V10.6 Z" fill="#0d6efd"/></svg>
<svg style="position:absolute;left:142.40px;top:107.00px;" width="9.00" height="15.00" viewBox="0 0 9 15"><path d="M1.2 1 L7.6 7.5 L1.2 14" fill="none" stroke="#6b6b6b" stroke-width="2.3"/></svg>
<span class="t" style="left:168.86px;top:104.87px;font-size:22.00px;line-height:22.00px;color:#0d6efd;font-weight:normal;letter-spacing:0.441px;transform:scaleX(1.1500);transform-origin:0 0;">Insights</span>
<svg style="position:absolute;left:276.40px;top:107.00px;" width="9.00" height="15.00" viewBox="0 0 9 15"><path d="M1.2 1 L7.6 7.5 L1.2 14" fill="none" stroke="#6b6b6b" stroke-width="2.3"/></svg>
<span class="t" style="left:303.62px;top:104.87px;font-size:22.00px;line-height:22.00px;color:#1c1c1c;font-weight:normal;letter-spacing:0.653px;transform:scaleX(1.1500);transform-origin:0 0;">Reporting</span>
<div style="position:absolute;left:80.00px;top:154.40px;width:80.00px;height:1171.60px;background:#fff;"></div>
<svg style="position:absolute;left:0;top:0" width="2844" height="1326" viewBox="0 0 2844 1326"><rect x="80.00" y="229.40" width="80.00" height="77.20" rx="0.00" fill="#e4f0ff" stroke="none" stroke-width="0"/><path d="M80.00 306.60 L160.00 306.60" stroke="#eaf2ff" stroke-width="1.4" fill="none"/><path d="M80.00 383.30 L160.00 383.30" stroke="#eaf2ff" stroke-width="1.4" fill="none"/><path d="M80.00 1261.40 L160.00 1261.40" stroke="#d4d4d4" stroke-width="1.4" fill="none"/></svg>
<svg style="position:absolute;left:107.00px;top:177.00px;" width="26.00" height="25.00" viewBox="0 0 26 25"><g fill="none" stroke="#7189d6" stroke-width="2.1"><rect x="1.7" y="2.2" width="22.2" height="15.6"/><path d="M12.8 17.8 V22.4 M5.6 22.6 H20"/><path d="M6.8 13.8 L11.6 9.4 L13.2 11.4 L19.4 6.4" stroke-width="2"/></g></svg>
<svg style="position:absolute;left:107.00px;top:251.00px;" width="27.00" height="27.00" viewBox="0 0 27 27"><g fill="none" stroke="#7189d6" stroke-width="2.1"><path d="M11.4 4 A10.6 10.6 0 1 0 22.9 15.4 H11.4 Z"/><path d="M15.6 1.4 A9.6 9.6 0 0 1 25 10.8 H15.6 Z"/></g></svg>
<svg style="position:absolute;left:106.50px;top:329.00px;" width="27.00" height="27.00" viewBox="0 0 27 27"><g fill="none" stroke="#7189d6" stroke-width="2.1"><path d="M13.4 0.8 V16.6 M6.4 9.8 L13.4 16.6 L20.4 9.8"/><path d="M1.8 18.4 V24.4 H25 V18.4"/></g></svg>
<svg style="position:absolute;left:111.20px;top:1288.40px;" width="18.00" height="16.00" viewBox="0 0 18 16"><path d="M1.6 1.4 L8.5 8 L1.6 14.6 M7.9 1.4 L14.8 8 L7.9 14.6" fill="none" stroke="#8a8a8a" stroke-width="2.6"/></svg>
<div style="position:absolute;left:0.00px;top:76.67px;width:80.00px;height:1249.33px;background:linear-gradient(to right,#5166a9 0,#5469ad 50%,#5368ab 80%,#4b5e9f 100%);"></div>
<svg style="position:absolute;left:0;top:0" width="2844" height="1326" viewBox="0 0 2844 1326"><rect x="0.00" y="613.80" width="80.00" height="76.70" rx="0.00" fill="#34447a" stroke="none" stroke-width="0"/><path d="M0.00 153.34 L80.00 153.34" stroke="#ffffff" stroke-width="1.2" stroke-opacity="0.28" fill="none"/><path d="M0.00 230.08 L80.00 230.08" stroke="#ffffff" stroke-width="1.2" stroke-opacity="0.28" fill="none"/><path d="M0.00 306.82 L80.00 306.82" stroke="#ffffff" stroke-width="1.2" stroke-opacity="0.28" fill="none"/><path d="M0.00 383.56 L80.00 383.56" stroke="#ffffff" stroke-width="1.2" stroke-opacity="0.28" fill="none"/><path d="M0.00 460.30 L80.00 460.30" stroke="#ffffff" stroke-width="1.2" stroke-opacity="0.28" fill="none"/><path d="M0.00 537.04 L80.00 537.04" stroke="#ffffff" stroke-width="1.2" stroke-opacity="0.28" fill="none"/><path d="M0.00 613.78 L80.00 613.78" stroke="#ffffff" stroke-width="1.2" stroke-opacity="0.28" fill="none"/><path d="M0.00 690.52 L80.00 690.52" stroke="#ffffff" stroke-width="1.2" stroke-opacity="0.28" fill="none"/><path d="M0.00 767.26 L80.00 767.26" stroke="#ffffff" stroke-width="1.2" stroke-opacity="0.28" fill="none"/><path d="M0.00 844.00 L80.00 844.00" stroke="#ffffff" stroke-width="1.2" stroke-opacity="0.28" fill="none"/><path d="M0.00 920.74 L80.00 920.74" stroke="#ffffff" stroke-width="1.2" stroke-opacity="0.28" fill="none"/><path d="M0.00 997.48 L80.00 997.48" stroke="#ffffff" stroke-width="1.2" stroke-opacity="0.28" fill="none"/><path d="M0.00 1074.22 L80.00 1074.22" stroke="#ffffff" stroke-width="1.2" stroke-opacity="0.28" fill="none"/><path d="M0.00 1150.96 L80.00 1150.96" stroke="#ffffff" stroke-width="1.2" stroke-opacity="0.28" fill="none"/><path d="M0.00 1227.70 L80.00 1227.70" stroke="#ffffff" stroke-width="1.2" stroke-opacity="0.28" fill="none"/><path d="M0.00 1261.40 L80.00 1261.40" stroke="#ffffff" stroke-width="1.2" stroke-opacity="0.28" fill="none"/></svg>
<div style="position:absolute;left:0.00px;top:76.67px;width:80.00px;height:14.00px;background:linear-gradient(to bottom,rgba(0,0,0,0.12),rgba(0,0,0,0));"></div>
<svg style="position:absolute;left:26.20px;top:99.70px;" width="27.00" height="24.00" viewBox="0 0 27 24"><path d="M1.6 12.2 L13.5 1.6 L25.4 12.2" fill="none" stroke="#fff" stroke-width="2.6" stroke-linecap="round" stroke-linejoin="round"/><path d="M19.4 2.4 H22.2 V8.6 L19.4 6.2 Z" fill="#fff"/><path d="M13.5 5.6 L4.6 13.4 V22 Q4.6 23.4 6 23.4 H10.8 V16.6 H16.2 V23.4 H21 Q22.4 23.4 22.4 22 V13.4 Z" fill="#fff"/></svg>
<svg style="position:absolute;left:26.20px;top:175.60px;" width="27.00" height="26.00" viewBox="0 0 27 26"><g fill="none" stroke="#fff" stroke-width="2.3" stroke-linecap="round" stroke-linejoin="round"><path d="M13.5 1.6 L25.4 7.6 L13.5 13.6 L1.6 7.6 Z"/><path d="M1.6 13 L13.5 19 L25.4 13"/><path d="M1.6 18.4 L13.5 24.4 L25.4 18.4"/></g></svg>
<svg style="position:absolute;left:30.70px;top:251.70px;" width="19.00" height="27.00" viewBox="0 0 19 27"><g fill="none" stroke="#fff" stroke-width="2.3" stroke-linecap="round" stroke-linejoin="round" stroke-width="2.1"><path d="M1.6 4.2 L6.6 1.4 L11.6 4.2 V14.6 L17.4 17.8 V22.8 L11.6 25.8 L1.6 20.4 Z"/><path d="M1.6 4.2 L6.6 7 L11.6 4.2 M6.6 7 V17.4 L11.6 20.2 L17.4 17.8 M11.6 20.2 V25.8 M11.6 14.6 L6.6 17.4"/></g></svg>
<svg style="position:absolute;left:29.00px;top:330.40px;" width="24.00" height="22.00" viewBox="0 0 24 22"><g fill="none" stroke="#fff" stroke-width="2.3" stroke-linecap="round" stroke-linejoin="round" stroke-width="2.2"><path d="M1.4 15.6 L10.4 1.6 L21.6 20 H4.4"/><path d="M9.6 15 L21 2.4" stroke-width="3"/></g></svg>
<svg style="position:absolute;left:27.20px;top:406.30px;" width="25.00" height="26.00" viewBox="0 0 25 26"><g fill="none" stroke="#fff" stroke-width="2.3" stroke-linecap="round" stroke-linejoin="round"><path d="M3.4 1.6 H21.6 Q23.4 1.6 23.4 3.4 V20 Q23.4 21.6 21.6 21.6 H16 L12.5 24.6 L9 21.6 H3.4 Q1.6 21.6 1.6 20 V3.4 Q1.6 1.6 3.4 1.6 Z"/><path d="M7.8 9.4 V13.8 M12.5 7.2 V16 M17.2 9.4 V13.8"/></g></svg>
<svg style="position:absolute;left:26.20px;top:483.30px;" width="27.00" height="25.00" viewBox="0 0 27 25"><g fill="none" stroke="#fff" stroke-width="2.3" stroke-linecap="round" stroke-linejoin="round"><circle cx="4.6" cy="8.4" r="3.3"/><circle cx="13.5" cy="17" r="3.3"/><circle cx="22.4" cy="8.4" r="3.3"/><path d="M4.6 1.4 V5 M4.6 11.8 V23.6 M13.5 1.4 V13.6 M13.5 20.4 V23.6 M22.4 1.4 V5 M22.4 11.8 V23.6"/></g></svg>
<svg style="position:absolute;left:26.20px;top:560.30px;" width="27.00" height="25.00" viewBox="0 0 27 25"><g fill="none" stroke="#fff" stroke-width="2.3" stroke-linecap="round" stroke-linejoin="round"><circle cx="13.5" cy="4.8" r="3.3"/><circle cx="4.8" cy="20" r="3.3"/><circle cx="22.2" cy="20" r="3.3"/><path d="M11.8 7.8 L6.6 17 M15.2 7.8 L20.4 17 M8.2 20 H18.8"/></g></svg>
<svg style="position:absolute;left:26.70px;top:635.40px;" width="26.00" height="26.00" viewBox="0 0 26 26"><g fill="none" stroke="#fff" stroke-width="2.3" stroke-linecap="round" stroke-linejoin="round" stroke-width="2.1"><path d="M9.6 19.6 C8.8 17.4 6.4 16 6.4 12.4 A6.6 6.6 0 0 1 19.6 12.4 C19.6 16 17.2 17.4 16.4 19.6 Z"/><path d="M9.8 20 V23.4 Q9.8 24.6 11 24.6 H15 Q16.2 24.6 16.2 23.4 V20"/><path d="M11.4 11.6 L13 13.6 L14.6 11.6 M13 13.6 V16"/><path d="M13 1.2 V2.6 M4.4 4.6 L5.6 5.8 M21.6 4.6 L20.4 5.8 M1.2 12.8 H2.8 M23.2 12.8 H24.8 M4.4 20.6 L5.6 19.6 M21.6 20.6 L20.4 19.6"/></g></svg>
<svg style="position:absolute;left:26.20px;top:714.50px;" width="27.00" height="23.00" viewBox="0 0 27 23"><g fill="none" stroke="#fff" stroke-width="2.3" stroke-linecap="round" stroke-linejoin="round"><path d="M7.2 16.6 H6.4 C3.4 16.4 1.6 14.2 1.6 11.6 C1.6 8.8 3.8 6.8 6.4 6.8 C7.2 3.6 10 1.6 13.5 1.6 C17 1.6 19.8 3.6 20.6 6.8 C23.2 6.8 25.4 8.8 25.4 11.6 C25.4 14.2 23.6 16.4 20.6 16.6 H19.8"/><path d="M9.6 13.4 H17.4 M9.6 17.2 H17.4 M9.6 21 H17.4" stroke-width="2.4"/></g></svg>
<svg style="position:absolute;left:27.40px;top:790.60px;" width="25.40" height="25.40" viewBox="0 0 27 27"><g fill="none" stroke="#fff" stroke-width="2.3" stroke-linecap="round" stroke-linejoin="round" stroke-width="2.2"><path d="M10.89 2.45Q11.48 0.76 13.50 0.76Q15.52 0.76 16.11 2.45Q16.71 4.13 17.28 4.37Q17.86 4.61 19.47 3.84Q21.08 3.06 22.51 4.49Q23.94 5.92 23.16 7.53Q22.39 9.14 22.63 9.72Q22.87 10.29 24.55 10.89Q26.24 11.48 26.24 13.50Q26.24 15.52 24.55 16.11Q22.87 16.71 22.63 17.28Q22.39 17.86 23.16 19.47Q23.94 21.08 22.51 22.51Q21.08 23.94 19.47 23.16Q17.86 22.39 17.28 22.63Q16.71 22.87 16.11 24.55Q15.52 26.24 13.50 26.24Q11.48 26.24 10.89 24.55Q10.29 22.87 9.72 22.63Q9.14 22.39 7.53 23.16Q5.92 23.94 4.49 22.51Q3.06 21.08 3.84 19.47Q4.61 17.86 4.37 17.28Q4.13 16.71 2.45 16.11Q0.76 15.52 0.76 13.50Q0.76 11.48 2.45 10.89Q4.13 10.29 4.37 9.72Q4.61 9.14 3.84 7.53Q3.06 5.92 4.49 4.49Q5.92 3.06 7.53 3.84Q9.14 4.61 9.72 4.37Q10.29 4.13 10.89 2.45Z"/><circle cx="13.5" cy="10.4" r="3"/><path d="M7.8 19 C8.6 15.6 10.8 14.4 13.5 14.4 C16.2 14.4 18.4 15.6 19.2 19"/></g></svg>
<svg style="position:absolute;left:28.40px;top:868.60px;" width="23.40" height="23.40" viewBox="0 0 25 25"><g fill="none" stroke="#fff" stroke-width="2.3" stroke-linecap="round" stroke-linejoin="round" stroke-width="2.2"><path d="M10.15 2.56Q10.69 1.04 12.50 1.04Q14.31 1.04 14.85 2.56Q15.38 4.08 15.90 4.29Q16.42 4.51 17.87 3.81Q19.32 3.12 20.60 4.40Q21.88 5.68 21.19 7.13Q20.49 8.58 20.71 9.10Q20.92 9.62 22.44 10.15Q23.96 10.69 23.96 12.50Q23.96 14.31 22.44 14.85Q20.92 15.38 20.71 15.90Q20.49 16.42 21.19 17.87Q21.88 19.32 20.60 20.60Q19.32 21.88 17.87 21.19Q16.42 20.49 15.90 20.71Q15.38 20.92 14.85 22.44Q14.31 23.96 12.50 23.96Q10.69 23.96 10.15 22.44Q9.62 20.92 9.10 20.71Q8.58 20.49 7.13 21.19Q5.68 21.88 4.40 20.60Q3.12 19.32 3.81 17.87Q4.51 16.42 4.29 15.90Q4.08 15.38 2.56 14.85Q1.04 14.31 1.04 12.50Q1.04 10.69 2.56 10.15Q4.08 9.62 4.29 9.10Q4.51 8.58 3.81 7.13Q3.12 5.68 4.40 4.40Q5.68 3.12 7.13 3.81Q8.58 4.51 9.10 4.29Q9.62 4.08 10.15 2.56Z"/><path d="M8.8 12.8 L11.6 15.4 L16.6 10.2"/></g></svg>
<svg style="position:absolute;left:27.40px;top:947.00px;" width="26.00" height="21.20" viewBox="0 0 27 22"><g fill="none" stroke="#fff" stroke-width="2.3" stroke-linecap="round" stroke-linejoin="round" stroke-width="2"><path d="M6.4 7.6 V5 Q6.4 1.6 9.8 1.6 H15 Q18 1.6 18.4 4.6 M9.6 5.2 H14.4"/><path d="M6 8.4 H19.4 L22.4 5.2"/><circle cx="24" cy="4" r="1.5"/><path d="M3.4 12 H22"/><circle cx="2.6" cy="12" r="2" fill="#fff"/><circle cx="24" cy="12" r="1.8"/><path d="M6.4 16 V18 Q6.4 20.2 8.6 20.2 H14 M10 16 H17.2 L20.2 18.8"/><circle cx="22" cy="19.4" r="1.5"/></g></svg>
<svg style="position:absolute;left:27.70px;top:1020.90px;" width="24.00" height="25.00" viewBox="0 0 24 25"><g fill="none" stroke="#fff" stroke-width="2.3" stroke-linecap="round" stroke-linejoin="round" stroke-width="2"><path d="M12 1.2 V20.4 M3.2 5.6 H20.8 M7.4 23.6 H16.6 M9.2 20.6 H14.8"/><path d="M4.8 5.8 L1.4 13.4 A3.6 3.6 0 0 0 8.2 13.4 Z"/><path d="M19.2 5.8 L15.8 13.4 A3.6 3.6 0 0 0 22.6 13.4 Z"/></g></svg>
<svg style="position:absolute;left:29.20px;top:1099.40px;" width="21.00" height="22.00" viewBox="0 0 21 22"><g fill="none" stroke="#fff" stroke-width="2.3" stroke-linecap="round" stroke-linejoin="round" stroke-width="2.3"><circle cx="10.5" cy="6" r="4.6"/><path d="M1.4 20.4 C1.8 15 5.6 12.6 10.5 12.6 C15.4 12.6 19.2 15 19.6 20.4"/></g></svg>
<svg style="position:absolute;left:27.20px;top:1174.20px;" width="25.00" height="25.00" viewBox="0 0 25 25"><g fill="none" stroke="#fff" stroke-width="2.3" stroke-linecap="round" stroke-linejoin="round" stroke-width="2.2"><circle cx="12.5" cy="12.5" r="11"/><circle cx="12.5" cy="12.5" r="5"/><path d="M4.8 4.8 L9 9 M20.2 4.8 L16 9 M4.8 20.2 L9 16 M20.2 20.2 L16 16"/></g></svg>
<svg style="position:absolute;left:31.20px;top:1288.40px;" width="18.00" height="16.00" viewBox="0 0 18 16"><path d="M1.6 1.4 L8.5 8 L1.6 14.6 M7.9 1.4 L14.8 8 L7.9 14.6" fill="none" stroke="#8395cf" stroke-width="2.6"/></svg>
<div style="position:absolute;left:0.00px;top:0.00px;width:2844.00px;height:76.67px;background:linear-gradient(to bottom,#3e4a6d 0,#404c72 40%,#46527f 100%);"></div>
<svg style="position:absolute;left:0.00px;top:0.00px;" width="80.00" height="77.00" viewBox="0 0 80 77"><g fill="none" stroke="#fff" stroke-width="3.3" stroke-linecap="round" stroke-linejoin="round"><path d="M35.0 48.6 C33.5 51.6 29.5 52.6 26.0 51.2 C21.5 49.4 19.4 44.6 21.2 40.2 C22.8 36.3 26.6 34.2 30.4 34.6 C35.0 35.1 37.8 39.0 40.4 43.2 C43.2 47.8 46.6 51.6 51.8 51.6 C56.6 51.6 60.4 47.6 60.4 42.8 C60.4 38.0 56.8 34.4 52.4 34.4 C50.0 34.4 48.0 35.4 46.8 36.8"/><path d="M30.6 34.4 C30.0 29.0 34.4 24.8 40.0 24.8 C45.0 24.8 49.2 28.0 49.9 33.0"/></g></svg>
<span class="t" style="left:79.45px;top:25.27px;font-size:27.20px;line-height:27.20px;color:#fff;font-weight:bold;transform:scaleX(0.9427);transform-origin:0 0;">Omilia Cloud Platform</span>
<span class="t" style="left:349.40px;top:20.77px;font-size:20.00px;line-height:20.00px;color:#fff;font-weight:normal;-webkit-text-stroke:0.2px #fff;">®</span>
<svg style="position:absolute;left:0.00px;top:0.00px;" width="2844.00" height="77.00" viewBox="0 0 2844 77"><g fill="none" stroke="#fff" stroke-width="2.1"><circle cx="2389" cy="38" r="14.9"/><circle cx="2389" cy="38" r="4.6" stroke-width="1.6"/><path d="M2394.70 38.00 L2400.10 38.00 M2393.03 42.03 L2396.85 45.85 M2389.00 43.70 L2389.00 49.10 M2384.97 42.03 L2381.15 45.85 M2383.30 38.00 L2377.90 38.00 M2384.97 33.97 L2381.15 30.15 M2389.00 32.30 L2389.00 26.90 M2393.03 33.97 L2396.85 30.15"/></g><path d="M2446.5 29.8 C2442.2 29.8 2439.9 33.4 2439.9 37.6 C2439.9 42.4 2438.6 45.2 2435.8 47.4 H2457.2 C2454.4 45.2 2453.1 42.4 2453.1 37.6 C2453.1 33.4 2450.8 29.8 2446.5 29.8 Z" fill="none" stroke="#fff" stroke-width="2.3" stroke-linejoin="round"/><circle cx="2446.5" cy="28" r="2.1" fill="#fff"/><path d="M2442.6 48.2 H2450.4 C2450 50.4 2448.4 51.5 2446.5 51.5 C2444.6 51.5 2443 50.4 2442.6 48.2 Z" fill="#fff"/></svg>
<div style="position:absolute;left:2479.00px;top:11.00px;width:251.30px;height:55.00px;background:#5268ad;border-radius:9px;"></div>
<span class="t" style="left:2498.02px;top:30.37px;font-size:22.00px;line-height:22.00px;color:#fff;font-weight:normal;transform:scaleX(1.1265);transform-origin:0 0;-webkit-text-stroke:0.9px #fff;">test_energon_...</span>
<svg style="position:absolute;left:2691.60px;top:35.40px;" width="18.00" height="11.00" viewBox="0 0 18 11"><path d="M1.2 1.2 L8.8 8.8 L16.4 1.2" fill="none" stroke="#fff" stroke-width="2.4"/></svg>
<div style="position:absolute;left:2742.80px;top:19.00px;width:1.20px;height:39.00px;background:#6f6a60;"></div>
<svg style="position:absolute;left:2810.50px;top:35.20px;" width="9.00" height="7.00" viewBox="0 0 9 7"><path d="M0 0 H8.4 L4.2 6.8 Z" fill="#6f7280"/></svg>
<svg style="position:absolute;left:0.00px;top:0.00px;" width="12.00" height="1326.00" viewBox="0 0 12 1326"><path d="M1 0 V1309 C1.4 1317 3.6 1322.5 8 1327" fill="none" stroke="#fff" stroke-opacity="0.22" stroke-width="2"/></svg>
<svg style="position:absolute;left:0.00px;top:1306.00px;" width="20.00" height="20.00" viewBox="0 0 20 20"><path d="M0 4.6 C0.4 11.5 2.6 16.6 7 20.4 H0 Z" fill="#15100e"/></svg>
</body></html>
